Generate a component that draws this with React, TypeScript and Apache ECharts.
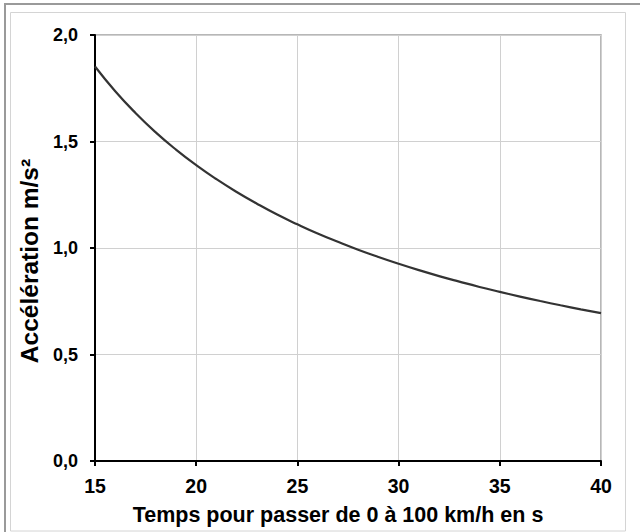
import React, { useEffect, useRef } from "react";
import * as echarts from "echarts";

const times = [15, 16, 17, 18, 19, 20, 21, 22, 23, 24, 25, 26, 27, 28, 29, 30, 31, 32, 33, 34, 35, 36, 37, 38, 39, 40];
const accel = [1.852, 1.736, 1.634, 1.543, 1.462, 1.389, 1.323, 1.263, 1.208, 1.157, 1.111, 1.068, 1.029, 0.992, 0.958, 0.926, 0.896, 0.868, 0.842, 0.817, 0.794, 0.772, 0.751, 0.731, 0.712, 0.694];
const xTitle = "Temps pour passer de 0 à 100 km/h en s";
const yTitle = "Accélération m/s²";

export default function App() {
  const ref = useRef<HTMLDivElement>(null);
  useEffect(() => {
    document.body.style.margin = "0";
    const chart = echarts.init(ref.current!, null, { renderer: "svg" });
    const font = "'Liberation Sans', Arial, sans-serif";
    chart.setOption({
      animation: false,
      backgroundColor: "#ffffff",
      grid: {
        left: 95, top: 35, right: 39, bottom: 71,
        show: true, borderColor: "#a0a0a0", borderWidth: 1.5, backgroundColor: "transparent",
      },
      graphic: [
        { type: "rect", shape: { x: 5, y: 4, width: 660, height: 560 }, style: { fill: "none", stroke: "#9a9a9a", lineWidth: 2 }, silent: true },
        { type: "rect", shape: { x: 10.5, y: 12.5, width: 615, height: 518.5 }, style: { fill: "none", stroke: "#d4d4d4", lineWidth: 1 }, silent: true },
      ],
      xAxis: {
        type: "value", min: 15, max: 40, interval: 5,
        name: xTitle, nameLocation: "middle", nameGap: 43,
        nameTextStyle: { fontFamily: font, fontWeight: "bold", fontSize: 21.5, color: "#000", padding: [0, 20, 0, 0] },
        axisLine: { show: true, onZero: false, lineStyle: { color: "#000", width: 2 } },
        axisTick: { show: true, length: 5, lineStyle: { color: "#000", width: 2 } },
        axisLabel: { fontFamily: font, fontWeight: "bold", fontSize: 19.5, color: "#000", margin: 15 },
        splitLine: { show: true, lineStyle: { color: "#d0d0d0", width: 1 } },
      },
      yAxis: {
        type: "value", min: 0, max: 2, interval: 0.5,
        name: yTitle, nameLocation: "middle", nameGap: 47,
        nameTextStyle: { fontFamily: font, fontWeight: "bold", fontSize: 24.5, color: "#000", padding: [0, 26, 0, 0] },
        axisLine: { show: true, lineStyle: { color: "#000", width: 2 } },
        axisTick: { show: true, length: 5, lineStyle: { color: "#000", width: 2 } },
        axisLabel: {
          fontFamily: font, fontWeight: "bold", fontSize: 18, color: "#000", margin: 17,
          formatter: (v: number) => v.toFixed(1).replace(".", ","),
        },
        splitLine: { show: true, lineStyle: { color: "#d0d0d0", width: 1 } },
      },
      series: [
        {
          type: "line",
          data: times.map((t, i) => [t, accel[i]]),
          smooth: true,
          showSymbol: false,
          lineStyle: { color: "#333333", width: 2.2 },
        },
      ],
    });
    return () => chart.dispose();
  }, []);
  return <div ref={ref} style={{ width: 640, height: 532 }} />;
}
